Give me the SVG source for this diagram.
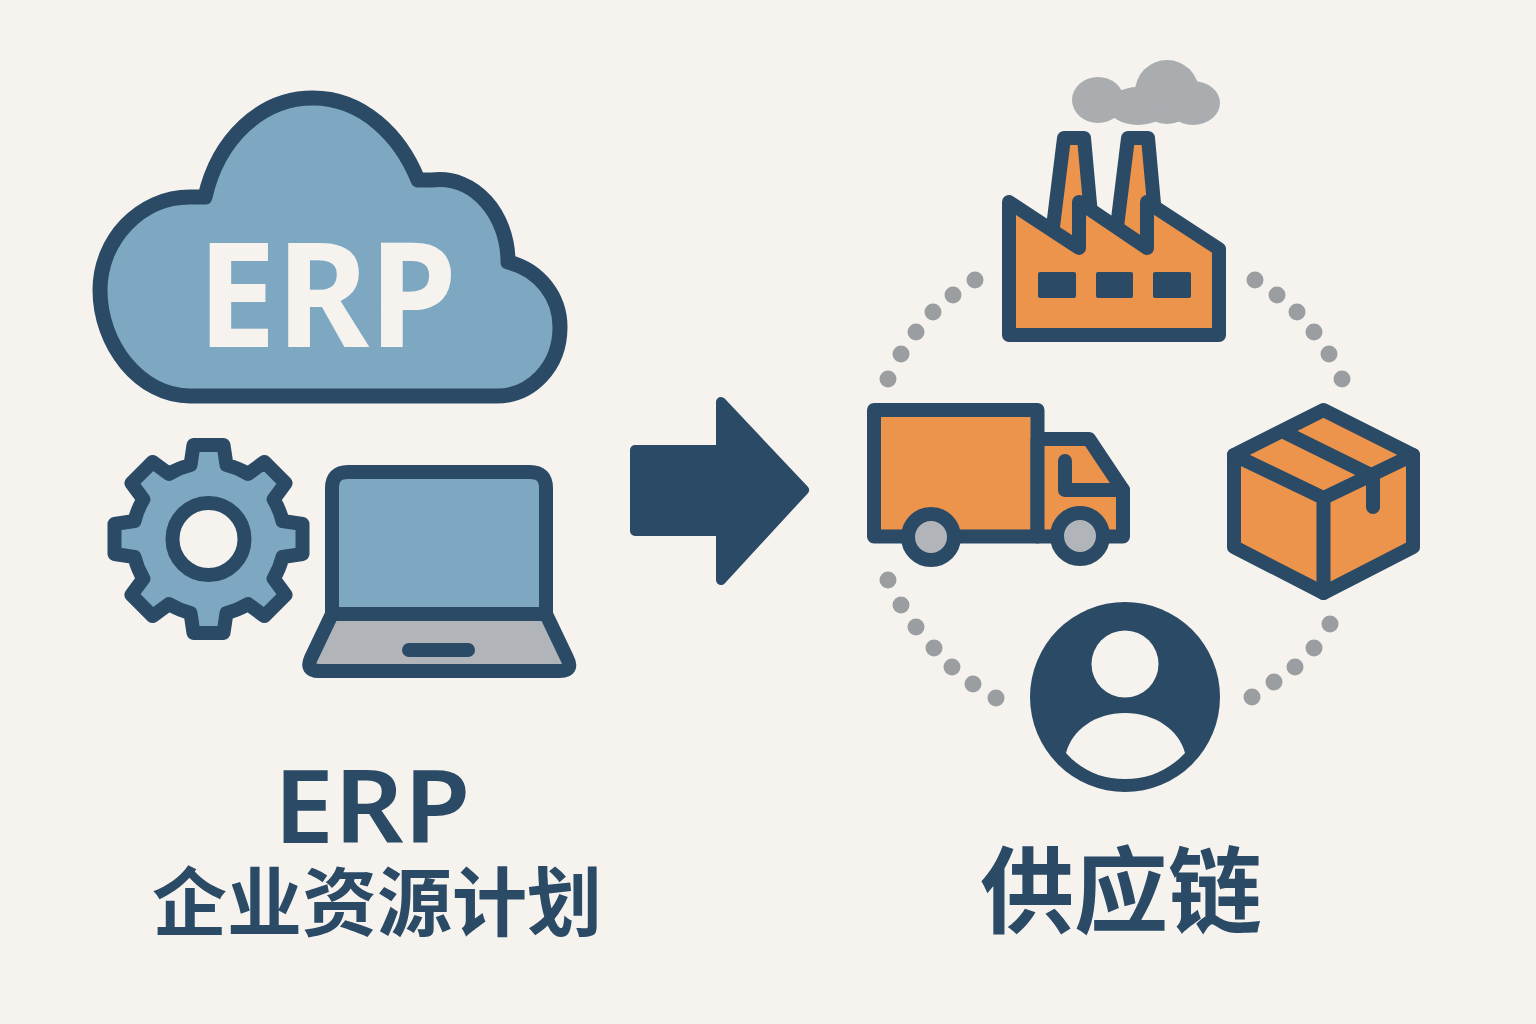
<svg xmlns="http://www.w3.org/2000/svg" width="1536" height="1024" viewBox="0 0 1536 1024">
<style>
.o{stroke:#2a4a66;stroke-width:14;stroke-linejoin:round;stroke-linecap:round}
.blue{fill:#7ea8c2}.orange{fill:#ec934c}.gray{fill:#b1b4b9}.bg{fill:#f6f3ef}.dark{fill:#2a4a66}.none{fill:none}
.t{font-family:"Noto Sans","Noto Sans CJK SC",sans-serif;fill:#2a4a66;text-anchor:middle}
.d{fill:#9b9ea1}.s{fill:#a9adb0}
</style>
<rect id="background" width="1536" height="1024" class="bg"/>
<g id="cloud">
<path class="o blue" style="stroke-width:15" d="M190 396C140 396 100 345 100 290C100 240 140 197 190 197H205C218 140 260 98 313 98C362 98 400 135 418 180H432C475 175 508 215 508 262C540 270 560 297 560 327C560 368 530 396 497 396Z"/>
<text x="327" y="347" font-family="'Noto Sans',sans-serif" font-weight="700" font-size="146" fill="#f6f3ef" text-anchor="middle" textLength="260" lengthAdjust="spacingAndGlyphs">ERP</text>
</g>
<g id="gear" transform="translate(208.500 539)">
<path class="o blue" d="M-18-74L-15-94H15L18-74A76 76 0 0 1 39.600-65.100L55.900-77.100L77.100-55.900L65.100-39.600A76 76 0 0 1 74-18L94-15V15L74 18A76 76 0 0 1 65.100 39.600L77.100 55.900L55.900 77.100L39.600 65.100A76 76 0 0 1 18 74L15 94H-15L-18 74A76 76 0 0 1 -39.600 65.100L-55.900 77.100L-77.100 55.900L-65.100 39.600A76 76 0 0 1 -74 18L-94 15V-15L-74-18A76 76 0 0 1 -65.100-39.600L-77.100-55.900L-55.900-77.100L-39.600-65.100A76 76 0 0 1 -18-74Z"/>
<circle class="o bg" r="36"/>
</g>
<g id="laptop">
<path class="o gray" d="M332 614L311 658Q305 671 319 671H560Q574 671 567 658L546 614Z"/>
<path class="o blue" d="M332 614V488Q332 472 348 472H530Q546 472 546 488V614Z"/>
<path class="o none" d="M409 650H468"/>
</g>
<g id="connectors">
<path class="dark" stroke="#2a4a66" stroke-width="10" stroke-linejoin="round" d="M635 450H721V402L804 490L721 580V531H635Z"/>
</g>
<g id="factory">
<g id="smoke" class="s">
<ellipse cx="1098" cy="100" rx="26" ry="23"/><circle cx="1167" cy="92" r="32"/><ellipse cx="1193" cy="103" rx="27" ry="22"/><ellipse cx="1138" cy="106" rx="30" ry="19"/><rect x="1110" y="91" width="50" height="16"/>
</g>
<path class="o orange" d="M1064 138H1084L1091 215L1079 250L1052 235Z"/>
<path class="o orange" d="M1128 138H1148L1155 215L1143 250L1116 235Z"/>
<path class="o orange" d="M1009 202L1079 248V202L1147 248V202L1219 249V335H1009Z"/>
<rect class="dark" x="1038" y="272" width="38" height="26" rx="2"/><rect class="dark" x="1096" y="272" width="37" height="26" rx="2"/><rect class="dark" x="1153" y="272" width="38" height="26" rx="2"/>
</g>
<g id="truck">
<rect class="o orange" x="874" y="410" width="163.500" height="126.500"/>
<path class="o orange" d="M1037.500 439H1089L1123 490V536.500H1037.500Z"/>
<path class="o none" d="M1065 461V490H1123"/>
<circle class="o gray" cx="931" cy="537" r="23"/>
<circle class="o gray" cx="1080" cy="536" r="23"/>
</g>
<g id="box">
<path class="o orange" d="M1323.500 410L1413 455V547L1323.500 593L1234 547V455Z"/>
<path class="o none" d="M1234 455L1323.500 498L1413 455M1323.500 498V593M1284 432L1373 476V507"/>
</g>
<g id="person">
<circle class="dark" cx="1125" cy="697" r="95"/>
<circle class="bg" cx="1125" cy="664" r="33.500"/>
<path class="bg" d="M1066 753C1072 730 1095 713 1125 713C1155 713 1179 730 1185 753C1168 771 1148 779 1125 779C1102 779 1082 771 1066 753Z"/>
</g>
<g id="dots" class="d">
<circle cx="975" cy="280" r="8.500"/><circle cx="953" cy="295" r="8.500"/><circle cx="933" cy="312" r="8.500"/><circle cx="916" cy="332" r="8.500"/><circle cx="901" cy="354" r="8.500"/><circle cx="888" cy="379" r="8.500"/>
<circle cx="1255" cy="280" r="8.500"/><circle cx="1277" cy="295" r="8.500"/><circle cx="1297" cy="312" r="8.500"/><circle cx="1314" cy="332" r="8.500"/><circle cx="1329" cy="354" r="8.500"/><circle cx="1342" cy="379" r="8.500"/>
<circle cx="888" cy="580" r="8.500"/><circle cx="901" cy="605" r="8.500"/><circle cx="916" cy="627" r="8.500"/><circle cx="934" cy="648" r="8.500"/><circle cx="952" cy="667" r="8.500"/><circle cx="973" cy="684" r="8.500"/><circle cx="996" cy="698" r="8.500"/>
<circle cx="1252" cy="697" r="8.500"/><circle cx="1274" cy="682" r="8.500"/><circle cx="1295" cy="667" r="8.500"/><circle cx="1314" cy="648" r="8.500"/><circle cx="1330" cy="624" r="8.500"/>
</g>
<g id="labels">
<text class="t" x="372" y="843" font-size="102" font-weight="600" textLength="197" lengthAdjust="spacingAndGlyphs">ERP</text>
<text class="t" x="377" y="930" font-size="75" font-weight="600">企业资源计划</text>
<text class="t" x="1121" y="926" font-size="94" font-weight="700">供应链</text>
</g>
</svg>
